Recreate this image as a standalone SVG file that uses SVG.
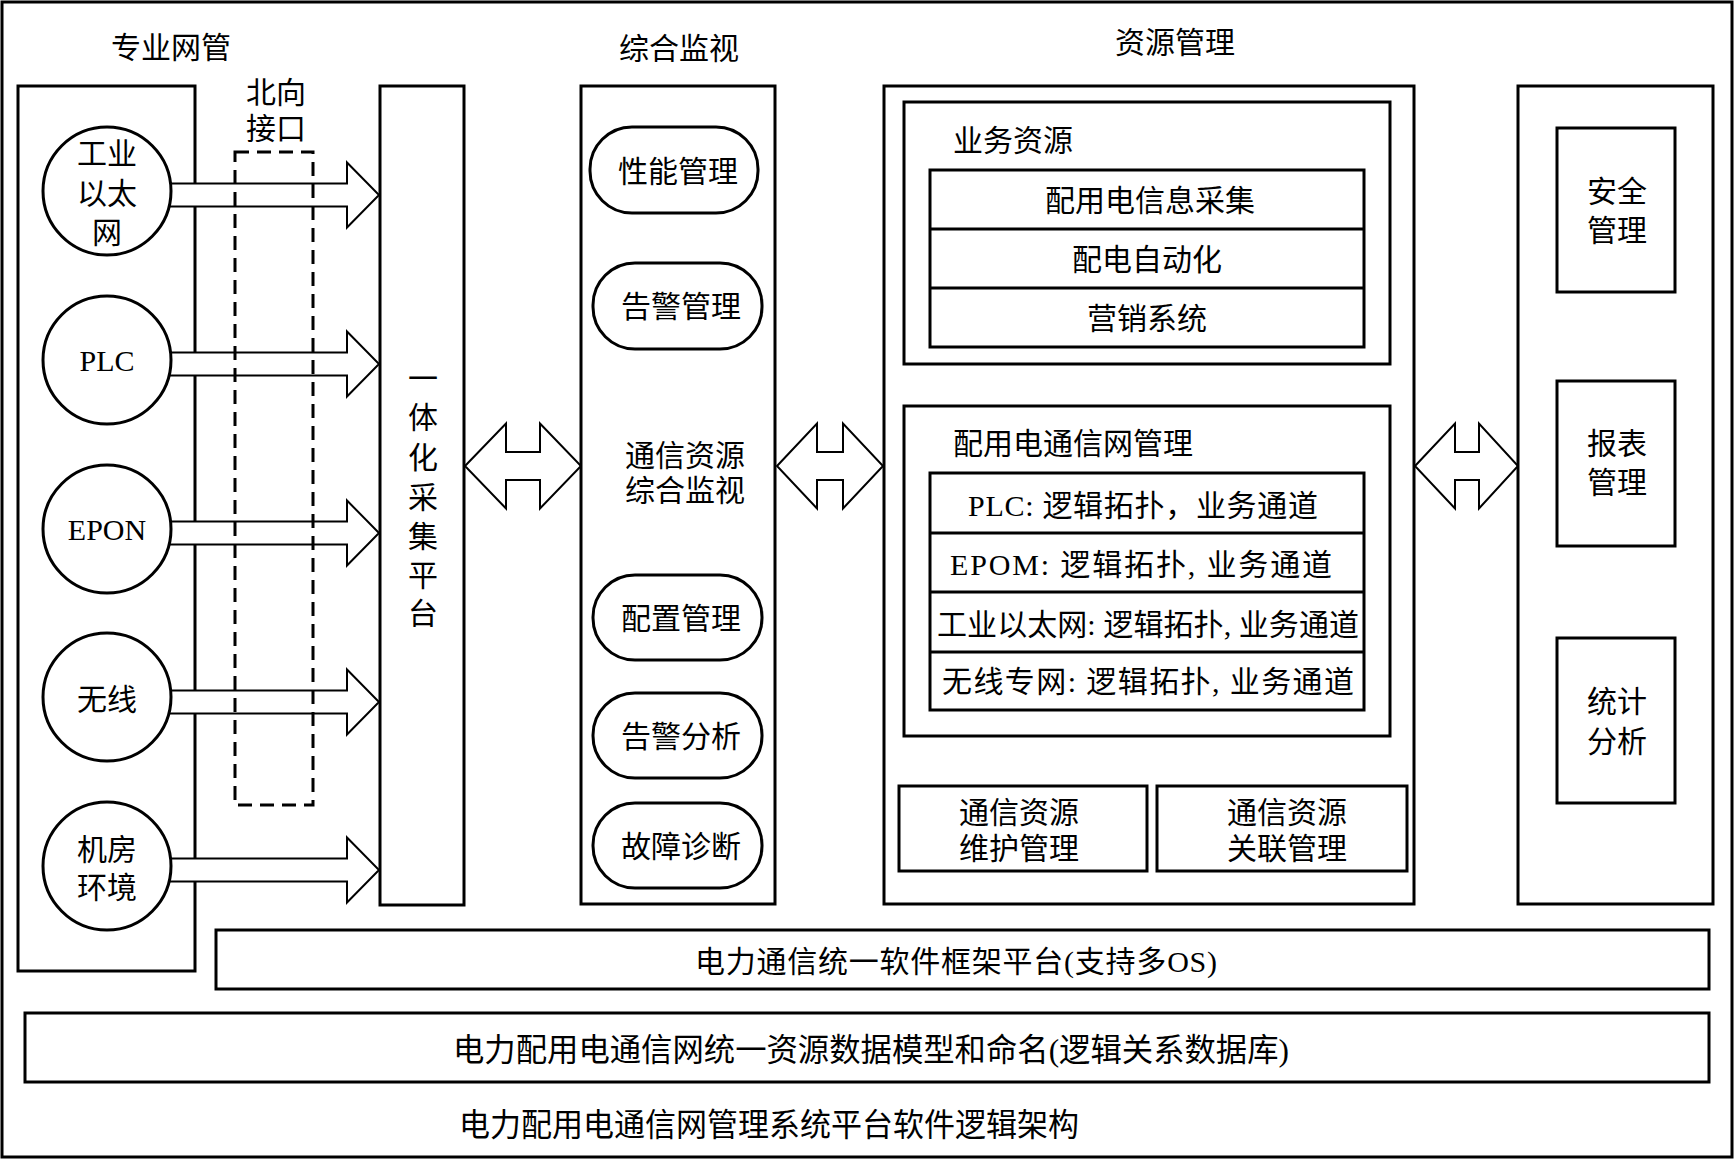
<svg xmlns="http://www.w3.org/2000/svg" width="1735" height="1160" viewBox="0 0 1735 1160">
<style>
text{font-family:"Liberation Serif","Noto Sans CJK SC",serif;font-size:30px;fill:#000;text-anchor:middle;dominant-baseline:central}
.box{fill:#fff;stroke:#000;stroke-width:3}
.thin{fill:#fff;stroke:#000;stroke-width:2}
.dash{fill:none;stroke:#000;stroke-width:3;stroke-dasharray:14 8}
.st{text-anchor:start}
.big{font-size:32px}
</style>
<rect x="0" y="0" width="1735" height="1160" fill="#fff"/>
<rect x="2" y="2" width="1730" height="1155" fill="none" stroke="#000" stroke-width="3"/>

<g id="titles">
<text x="171" y="47">专业网管</text>
<text x="679" y="48">综合监视</text>
<text x="1175" y="42">资源管理</text>
</g>

<g id="panel-zhuanye">
<rect class="box" x="18" y="86" width="177" height="885"/>
</g>

<g id="connectors">
<polygon class="thin" points="160,183.5 347,183.5 347,162.5 379,195 347,227.5 347,206.5 160,206.5"/>
<polygon class="thin" points="160,352.5 347,352.5 347,331.5 379,364 347,396.5 347,375.5 160,375.5"/>
<polygon class="thin" points="160,521.5 347,521.5 347,500.5 379,533 347,565.5 347,544.5 160,544.5"/>
<polygon class="thin" points="160,690.5 347,690.5 347,669.5 379,702 347,734.5 347,713.5 160,713.5"/>
<polygon class="thin" points="160,858.5 347,858.5 347,837.5 379,870 347,902.5 347,881.5 160,881.5"/>
<polygon class="thin" points="465,466 506,423.5 506,452 540,452 540,423.5 581,466 540,508.5 540,480 506,480 506,508.5"/>
<polygon class="thin" points="777,466 817,423.5 817,452 843,452 843,423.5 883,466 843,508.5 843,480 817,480 817,508.5"/>
<polygon class="thin" points="1415,466 1455,423.5 1455,452 1479,452 1479,423.5 1518,466 1479,508.5 1479,480 1455,480 1455,508.5"/>
</g>

<g id="node-gongye">
<circle class="box" cx="107" cy="191" r="64"/>
<text x="107" y="153">工业</text>
<text x="107" y="193">以太</text>
<text x="107" y="232">网</text>
</g>
<g id="node-plc">
<circle class="box" cx="107" cy="360" r="64"/>
<text x="107" y="360">PLC</text>
</g>
<g id="node-epon">
<circle class="box" cx="107" cy="529" r="64"/>
<text x="107" y="529">EPON</text>
</g>
<g id="node-wuxian">
<circle class="box" cx="107" cy="697" r="64"/>
<text x="107" y="699">无线</text>
</g>
<g id="node-jifang">
<circle class="box" cx="107" cy="866" r="64"/>
<text x="107" y="849">机房</text>
<text x="107" y="887">环境</text>
</g>

<g id="northbound">
<rect class="dash" x="235" y="152" width="78" height="653"/>
<text x="276" y="92">北向</text>
<text x="276" y="128">接口</text>
</g>

<g id="node-caiji">
<rect class="box" x="380" y="86" width="84" height="819"/>
<text x="423" y="378">一</text>
<text x="423" y="417">体</text>
<text x="423" y="457">化</text>
<text x="423" y="497">采</text>
<text x="423" y="536">集</text>
<text x="423" y="575">平</text>
<text x="423" y="613">台</text>
</g>

<g id="node-jiance">
<rect class="box" x="581" y="86" width="194" height="818"/>
<text x="685" y="455">通信资源</text>
<text x="685" y="490">综合监视</text>
</g>
<g id="node-xingneng">
<rect class="box" x="590" y="127" width="168" height="86" rx="42" ry="42"/>
<text x="678" y="171">性能管理</text>
</g>
<g id="node-gaojing">
<rect class="box" x="593" y="263" width="169" height="86" rx="42" ry="42"/>
<text x="681" y="306">告警管理</text>
</g>
<g id="node-peizhi">
<rect class="box" x="593" y="575" width="169" height="85" rx="42" ry="42"/>
<text x="681" y="618">配置管理</text>
</g>
<g id="node-fenxi">
<rect class="box" x="593" y="693" width="169" height="85" rx="42" ry="42"/>
<text x="681" y="736">告警分析</text>
</g>
<g id="node-guzhang">
<rect class="box" x="593" y="803" width="169" height="85" rx="42" ry="42"/>
<text x="681" y="846">故障诊断</text>
</g>

<g id="node-ziyuan">
<rect class="box" x="884" y="86" width="530" height="818"/>
</g>
<g id="node-yewu">
<rect class="box" x="904" y="102" width="486" height="262"/>
<text class="st" x="953" y="140">业务资源</text>
<rect class="box" x="930" y="170" width="434" height="177"/>
<line x1="930" y1="229" x2="1364" y2="229" stroke="#000" stroke-width="3"/>
<line x1="930" y1="288" x2="1364" y2="288" stroke="#000" stroke-width="3"/>
<text x="1150" y="200">配用电信息采集</text>
<text x="1147" y="259">配电自动化</text>
<text x="1147" y="318">营销系统</text>
</g>
<g id="node-tongxinwang">
<rect class="box" x="904" y="406" width="486" height="330"/>
<text class="st" x="953" y="443">配用电通信网管理</text>
<rect class="box" x="930" y="473" width="434" height="237"/>
<line x1="930" y1="533" x2="1364" y2="533" stroke="#000" stroke-width="3"/>
<line x1="930" y1="592" x2="1364" y2="592" stroke="#000" stroke-width="3"/>
<line x1="930" y1="652" x2="1364" y2="652" stroke="#000" stroke-width="3"/>
<text x="1143" y="505" textLength="350" lengthAdjust="spacing">PLC: 逻辑拓扑，业务通道</text>
<text x="1141" y="564" textLength="382" lengthAdjust="spacing">EPOM: 逻辑拓扑, 业务通道</text>
<text x="1148" y="624" textLength="422" lengthAdjust="spacing">工业以太网: 逻辑拓扑, 业务通道</text>
<text x="1148" y="681" textLength="412" lengthAdjust="spacing">无线专网: 逻辑拓扑, 业务通道</text>
</g>
<g id="node-weihu">
<rect class="box" x="899" y="786" width="248" height="85"/>
<text x="1019" y="812">通信资源</text>
<text x="1019" y="848">维护管理</text>
</g>
<g id="node-guanlian">
<rect class="box" x="1157" y="786" width="250" height="85"/>
<text x="1287" y="812">通信资源</text>
<text x="1287" y="848">关联管理</text>
</g>

<g id="node-right">
<rect class="box" x="1518" y="86" width="195" height="818"/>
</g>
<g id="node-anquan">
<rect class="box" x="1557" y="128" width="118" height="164"/>
<text x="1617" y="191">安全</text>
<text x="1617" y="230">管理</text>
</g>
<g id="node-baobiao">
<rect class="box" x="1557" y="381" width="118" height="165"/>
<text x="1617" y="443">报表</text>
<text x="1617" y="482">管理</text>
</g>
<g id="node-tongji">
<rect class="box" x="1557" y="638" width="118" height="165"/>
<text x="1617" y="701">统计</text>
<text x="1617" y="741">分析</text>
</g>

<g id="node-framework">
<rect class="box" x="216" y="930" width="1493" height="59"/>
<text x="956" y="961" textLength="522" lengthAdjust="spacing">电力通信统一软件框架平台(支持多OS)</text>
</g>
<g id="node-datamodel">
<rect class="box" x="25" y="1013" width="1684" height="69"/>
<text class="big" x="871" y="1050" textLength="836" lengthAdjust="spacingAndGlyphs">电力配用电通信网统一资源数据模型和命名(逻辑关系数据库)</text>
</g>
<g id="caption">
<text class="big st" x="459" y="1125" textLength="620" lengthAdjust="spacingAndGlyphs">电力配用电通信网管理系统平台软件逻辑架构</text>
</g>
</svg>
